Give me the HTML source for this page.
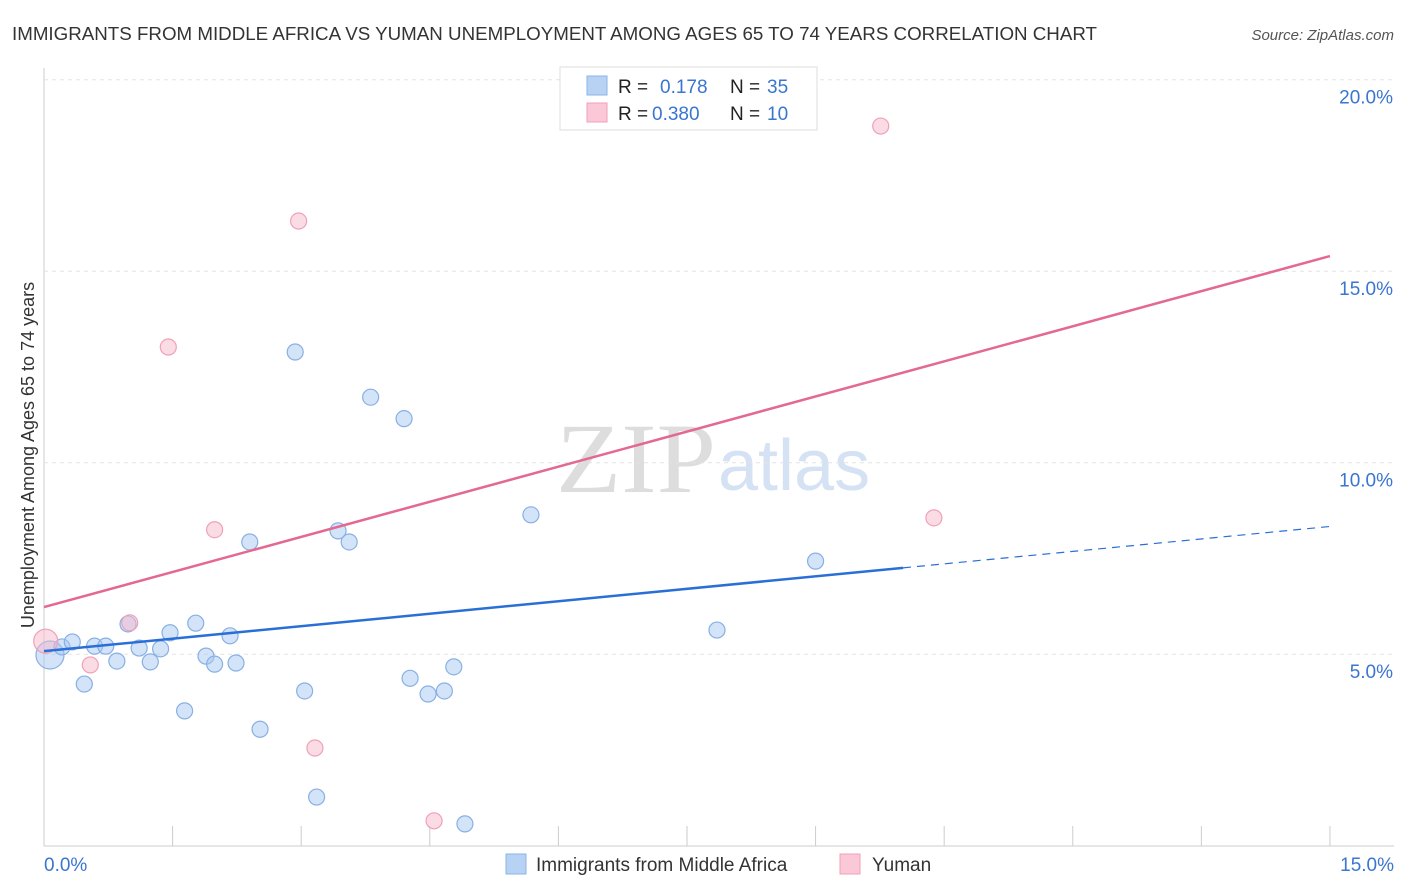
<!DOCTYPE html>
<html><head><meta charset="utf-8"><style>
body{margin:0;background:#fff;font-family:"Liberation Sans",sans-serif}
svg{display:block}
</style></head><body>
<svg id="c" width="1406" height="892" xmlns="http://www.w3.org/2000/svg">
<text x="12" y="40" font-size="18" fill="#333" textLength="1085" lengthAdjust="spacingAndGlyphs">IMMIGRANTS FROM MIDDLE AFRICA VS YUMAN UNEMPLOYMENT AMONG AGES 65 TO 74 YEARS CORRELATION CHART</text>
<text x="1394" y="40" font-size="15" fill="#555" font-style="italic" text-anchor="end">Source: ZipAtlas.com</text>
<text x="716" y="492" font-size="100" fill="#ddd" text-anchor="end" font-family="Liberation Serif,serif" textLength="160" lengthAdjust="spacingAndGlyphs">ZIP</text>
<text x="718" y="490" font-size="72" fill="#d4e2f4">atlas</text>
<text transform="translate(34,455) rotate(-90)" font-size="18" fill="#333" text-anchor="middle">Unemployment Among Ages 65 to 74 years</text>
<g id="grid"></g><g id="marks"></g>
<g>
<rect x="560" y="67" width="257" height="63" fill="#fff" stroke="#ddd"/>
<rect x="587" y="76" width="20" height="19" fill="#b8d2f4" stroke="#8ab4e8"/>
<rect x="587" y="103" width="20" height="19" fill="#fac8d6" stroke="#f0a0b8"/>
<text x="618" y="93" font-size="19" fill="#222">R =  </text><text x="660" y="93" font-size="19" fill="#3a75d0">0.178</text>
<text x="730" y="93" font-size="19" fill="#222">N =</text><text x="767" y="93" font-size="19" fill="#3a75d0">35</text>
<text x="618" y="120" font-size="19" fill="#222">R =</text><text x="652" y="120" font-size="19" fill="#3a75d0">0.380</text>
<text x="730" y="120" font-size="19" fill="#222">N =</text><text x="767" y="120" font-size="19" fill="#3a75d0">10</text>
</g>
<g>
<rect x="506" y="854" width="20" height="20" fill="#b8d2f4" stroke="#8ab4e8"/>
<text x="536" y="871" font-size="19" fill="#333">Immigrants from Middle Africa</text>
<rect x="840" y="854" width="20" height="20" fill="#fac8d6" stroke="#f0a0b8"/>
<text x="872" y="871" font-size="19" fill="#333">Yuman</text>
</g>
</svg>
<script>
const yTicks=[5,10,15,20];
const xTickLabels=["0.0%","15.0%"];
const blueX=[0.07,0.21,0.33,0.47,0.59,0.72,0.85,0.98,1.11,1.24,1.36,1.47,1.64,1.77,1.89,1.99,2.17,2.24,2.40,2.52,2.93,3.04,3.18,3.43,3.56,3.81,4.20,4.27,4.48,4.67,4.78,4.91,5.68,7.85,9.00];
const blueY=[4.98,5.19,5.32,4.22,5.21,5.21,4.82,5.79,5.16,4.80,5.14,5.56,3.52,5.81,4.95,4.74,5.48,4.77,7.93,3.04,12.89,4.04,1.27,8.22,7.93,11.71,11.15,4.37,3.96,4.04,4.67,0.57,8.64,5.63,7.43];
const pinkX=[0.02,0.54,1.00,1.45,1.99,2.97,3.16,4.55,9.76,10.38];
const pinkY=[5.34,4.72,5.82,13.02,8.25,16.31,2.55,0.65,18.79,8.56];
const blueTrend=[5.08,0.217];
const pinkTrend=[6.23,0.611];
const X=v=>44+v*85.73, Y=v=>845.7-v*38.3;
const NS="http://www.w3.org/2000/svg";
function mk(t,a,p){const e=document.createElementNS(NS,t);for(const k in a)e.setAttribute(k,a[k]);p.appendChild(e);return e;}
const g=document.getElementById('grid'),m=document.getElementById('marks');
mk('line',{x1:44,y1:68,x2:44,y2:846,stroke:'#ccc'},g);
mk('line',{x1:44,y1:846,x2:1394,y2:846,stroke:'#ccc'},g);
for(let i=0;i<=10;i++){const x=X(i*1.5);mk('line',{x1:x,y1:826,x2:x,y2:846,stroke:'#ccc'},g);}
yTicks.forEach(v=>{mk('line',{x1:44,y1:Y(v),x2:1394,y2:Y(v),stroke:'#e4e4e4','stroke-dasharray':'4,4'},g);
const t=mk('text',{x:1393,y:Y(v)+24,'font-size':19,fill:'#3a75d0','text-anchor':'end'},g);t.textContent=v.toFixed(1)+'%';

});
const t0=mk('text',{x:44,y:871,'font-size':19,fill:'#3a75d0'},g);t0.textContent=xTickLabels[0];


const t1=mk('text',{x:1394,y:871,'font-size':19,fill:'#3a75d0','text-anchor':'end'},g);t1.textContent=xTickLabels[1];


blueX.forEach((x,i)=>{const c=mk('circle',{cx:X(x),cy:Y(blueY[i]),r:i==0?14:8,fill:'rgba(168,200,242,0.5)',stroke:'#88b0e4','stroke-width':1.2},m);

});
pinkX.forEach((x,i)=>{const c=mk('circle',{cx:X(x),cy:Y(pinkY[i]),r:i==0?12:8,fill:'rgba(248,186,204,0.5)',stroke:'#f0a0b8','stroke-width':1.2},m);

});
const bl=mk('line',{x1:X(0),y1:Y(blueTrend[0]),x2:X(10.02),y2:Y(blueTrend[0]+blueTrend[1]*10.02),stroke:'#2a6fd6','stroke-width':2.5},m);


const bd=mk('line',{x1:X(10.02),y1:Y(blueTrend[0]+blueTrend[1]*10.02),x2:X(15),y2:Y(blueTrend[0]+blueTrend[1]*15),stroke:'#2a6fd6','stroke-width':1.2,'stroke-dasharray':'8,6'},m);


const pl=mk('line',{x1:X(0),y1:Y(pinkTrend[0]),x2:X(15),y2:Y(pinkTrend[0]+pinkTrend[1]*15),stroke:'#e4688f','stroke-width':2.5},m);


</script>
</body></html>
